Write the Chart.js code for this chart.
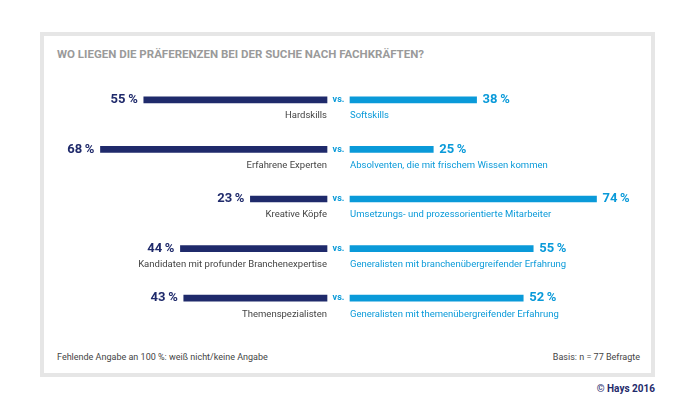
<!DOCTYPE html>
<html>
<head>
<meta charset="utf-8">
<script src="https://cdn.jsdelivr.net/npm/chart.js@4"></script>
<style>
  body { margin: 0; width: 695px; height: 412px; background: #fff; font-family: Roboto, sans-serif; position: relative; overflow: hidden; }
  #frame { position: absolute; left: 40px; top: 32px; width: 607px; height: 337px; border: 4px solid #e6e6e6; }
  .txt { position: absolute; white-space: nowrap; }
  #title { left: 57px; top: 47px; font-size: 11.5px; font-weight: bold; color: #9a9a9a; }
  #note { left: 57px; top: 352px; font-size: 9px; color: #444; }
  #basis { right: 55px; top: 352px; font-size: 9px; color: #444; }
  #copy { right: 40px; top: 383px; font-size: 10px; font-weight: bold; color: #1f2a6b; }
  #wrap { position: absolute; left: 0; top: 0; width: 695px; height: 412px; }
</style>
</head>
<body>
<div id="frame"></div>
<div class="txt" id="title">WO LIEGEN DIE PRÄFERENZEN BEI DER SUCHE NACH FACHKRÄFTEN?</div>
<div class="txt" id="note">Fehlende Angabe an 100 %: weiß nicht/keine Angabe</div>
<div class="txt" id="basis">Basis: n = 77 Befragte</div>
<div class="txt" id="copy">© Hays 2016</div>
<div id="wrap"><canvas id="chart" width="695" height="412"></canvas></div>
<script>
const leftLabels = ["Hardskills", "Erfahrene Experten", "Kreative Köpfe", "Kandidaten mit profunder Branchenexpertise", "Themenspezialisten"];
const rightLabels = ["Softskills", "Absolventen, die mit frischem Wissen kommen", "Umsetzungs- und prozessorientierte Mitarbeiter", "Generalisten mit branchenübergreifender Erfahrung", "Generalisten mit themenübergreifender Erfahrung"];
const leftValues = [55, 68, 23, 44, 43];
const rightValues = [38, 25, 74, 55, 52];

const GAP = 3.45;
const NAVY = "#1f2a6b";
const BLUE = "#0a9ad9";

const labelPlugin = {
  id: "labels",
  afterDatasetsDraw(chart) {
    const ctx = chart.ctx;
    const x = chart.scales.x;
    const metaL = chart.getDatasetMeta(0);
    ctx.save();
    ctx.textBaseline = "middle";
    leftValues.forEach((v, i) => {
      const y = metaL.data[i].y;
      const lx = x.getPixelForValue(-(v + GAP));
      const rx = x.getPixelForValue(rightValues[i] + GAP);
      ctx.font = "bold 13px Roboto";
      ctx.fillStyle = NAVY;
      ctx.textAlign = "right";
      ctx.fillText(v + "\u2009%", lx - 6, y);
      ctx.fillStyle = BLUE;
      ctx.textAlign = "left";
      ctx.fillText(rightValues[i] + "\u2009%", rx + 6, y);
      ctx.font = "bold 9px Roboto";
      ctx.textAlign = "center";
      ctx.fillText("vs.", x.getPixelForValue(0), y);
      ctx.font = "9.5px Roboto";
      ctx.fillStyle = "#444";
      ctx.textAlign = "right";
      ctx.fillText(leftLabels[i], x.getPixelForValue(-GAP), y + 16);
      ctx.fillStyle = BLUE;
      ctx.textAlign = "left";
      ctx.fillText(rightLabels[i], x.getPixelForValue(GAP), y + 16);
    });
    ctx.restore();
  }
};

new Chart(document.getElementById("chart"), {
  type: "bar",
  data: {
    labels: leftLabels,
    datasets: [
      { data: leftValues.map(v => [-(v + GAP), -GAP]), backgroundColor: NAVY, barThickness: 6, grouped: false },
      { data: rightValues.map(v => [GAP, v + GAP]), backgroundColor: BLUE, barThickness: 6, grouped: false }
    ]
  },
  options: {
    indexAxis: "y",
    responsive: false,
    animation: false,
    layout: { padding: { left: 72, right: 90, top: 75, bottom: 89 } },
    scales: {
      x: { type: "linear", min: -80, max: 80, display: false },
      y: { display: false }
    },
    plugins: { legend: { display: false }, tooltip: { enabled: false } }
  },
  plugins: [labelPlugin]
});
</script>
</body>
</html>
